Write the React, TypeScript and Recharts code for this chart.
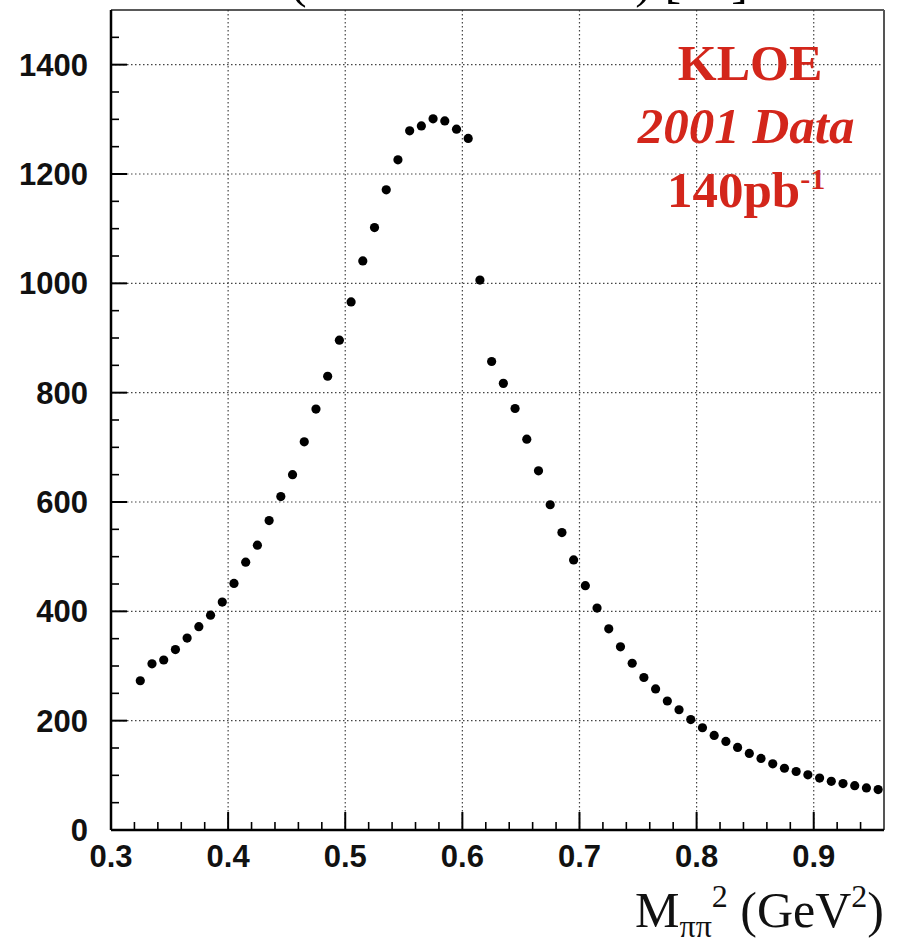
import React from "react";
import {
  ScatterChart,
  Scatter,
  XAxis,
  YAxis,
  CartesianGrid,
  ReferenceLine,
} from "recharts";

// M_pipi^2 bin centres (GeV^2)
const massSq = [
  0.325, 0.335, 0.345, 0.355, 0.365, 0.375, 0.385, 0.395, 0.405, 0.415,
  0.425, 0.435, 0.445, 0.455, 0.465, 0.475, 0.485, 0.495, 0.505, 0.515,
  0.525, 0.535, 0.545, 0.555, 0.565, 0.575, 0.585, 0.595, 0.605, 0.615,
  0.625, 0.635, 0.645, 0.655, 0.665, 0.675, 0.685, 0.695, 0.705, 0.715,
  0.725, 0.735, 0.745, 0.755, 0.765, 0.775, 0.785, 0.795, 0.805, 0.815,
  0.825, 0.835, 0.845, 0.855, 0.865, 0.875, 0.885, 0.895, 0.905, 0.915,
  0.925, 0.935, 0.945, 0.955,
];

// Spectrum values
const counts = [
  273, 304, 311, 330, 351, 372, 393, 417, 451, 490,
  521, 566, 610, 650, 710, 770, 830, 896, 966, 1041,
  1102, 1171, 1226, 1279, 1288, 1301, 1297, 1282, 1265, 1006,
  857, 817, 771, 715, 657, 595, 544, 494, 447, 406,
  368, 335, 305, 279, 258, 236, 220, 202, 187, 173,
  162, 151, 140, 131, 121, 113, 107, 101, 95, 89,
  85, 81, 77, 74,
];

// Axis ticks (major + minor)
const xTicks = [
  0.3, 0.32, 0.34, 0.36, 0.38, 0.4, 0.42, 0.44, 0.46, 0.48, 0.5, 0.52, 0.54,
  0.56, 0.58, 0.6, 0.62, 0.64, 0.66, 0.68, 0.7, 0.72, 0.74, 0.76, 0.78, 0.8,
  0.82, 0.84, 0.86, 0.88, 0.9, 0.92, 0.94,
];
const xMajor = [0.3, 0.4, 0.5, 0.6, 0.7, 0.8, 0.9];
const yTicks = [
  0, 50, 100, 150, 200, 250, 300, 350, 400, 450, 500, 550, 600, 650, 700, 750,
  800, 850, 900, 950, 1000, 1050, 1100, 1150, 1200, 1250, 1300, 1350, 1400, 1450,
];
const yMajor = [0, 200, 400, 600, 800, 1000, 1200, 1400];
const xGrid = [0.4, 0.5, 0.6, 0.7, 0.8, 0.9];
const yGrid = [200, 400, 600, 800, 1000, 1200, 1400];

const data = massSq.map((x, i) => ({ x, y: counts[i] }));

const TICK_FONT = "'Liberation Sans', Arial, sans-serif";
const SERIF = "'Liberation Serif', 'Times New Roman', serif";
const RED = "#d3261b";

const isXMajor = (v: number) => xMajor.some((m) => Math.abs(m - v) < 1e-6);

const XTick = (props: any) => {
  const { x, y, payload } = props;
  const v = payload.value as number;
  const major = isXMajor(v);
  return (
    <g>
      <line x1={x} x2={x} y1={y} y2={y - (major ? 18 : 8)} stroke="#000" strokeWidth={major ? 2 : 1.6} />
      {major && (
        <text
          x={x}
          y={y + 37}
          textAnchor="middle"
          fontFamily={TICK_FONT}
          fontWeight="bold"
          fontSize={31}
          fill="#111"
        >
          {v.toFixed(1)}
        </text>
      )}
    </g>
  );
};

const YTick = (props: any) => {
  const { x, y, payload } = props;
  const v = payload.value as number;
  const major = yMajor.includes(v);
  return (
    <g>
      <line x1={x} x2={x + (major ? 16 : 8)} y1={y} y2={y} stroke="#000" strokeWidth={major ? 2 : 1.6} />
      {major && (
        <text
          x={x - 23}
          y={y + 11}
          textAnchor="end"
          fontFamily={TICK_FONT}
          fontWeight="bold"
          fontSize={31}
          fill="#111"
        >
          {v}
        </text>
      )}
    </g>
  );
};

const Dot = (props: any) => {
  const { cx, cy } = props;
  if (cx == null || cy == null) return null;
  return <circle cx={cx} cy={cy} r={4.6} fill="#000" />;
};

export default function App() {
  return (
    <div style={{ position: "absolute", left: 0, top: 0, width: 909, height: 941, background: "#fff" }}>
      <ScatterChart
        width={909}
        height={941}
        margin={{ top: 10, right: 25, bottom: 0, left: 0 }}
      >
        <CartesianGrid
          horizontalValues={yGrid}
          verticalValues={xGrid}
          stroke="#444"
          strokeWidth={1.2}
          strokeDasharray="1.5 2.5"
        />
        <XAxis
          type="number"
          dataKey="x"
          domain={[0.3, 0.96]}
          ticks={xTicks}
          interval={0}
          allowDataOverflow
          height={111}
          tickSize={0}
          tickMargin={0}
          tickLine={false}
          tick={<XTick />}
          axisLine={{ stroke: "#000", strokeWidth: 2.5 }}
        />
        <YAxis
          type="number"
          dataKey="y"
          domain={[0, 1500]}
          ticks={yTicks}
          interval={0}
          allowDataOverflow
          width={111}
          tickSize={0}
          tickMargin={0}
          tickLine={false}
          tick={<YTick />}
          axisLine={{ stroke: "#000", strokeWidth: 2.5 }}
        />
        <ReferenceLine y={1500} stroke="#222" strokeWidth={1.6} />
        <ReferenceLine x={0.96} stroke="#555" strokeWidth={2} />
        <Scatter data={data} shape={<Dot />} isAnimationActive={false} />
      </ScatterChart>
      <svg
        width={909}
        height={941}
        style={{ position: "absolute", left: 0, top: 0, pointerEvents: "none" }}
      >
        {/* title, mostly cut off at the top edge as in the reference */}
        <text
          x={290}
          y={-3}
          fontFamily={SERIF}
          fontSize={50}
          fill="#000"
          textLength={458}
          lengthAdjust="spacing"
        >
          (e⁺e⁻ → π⁺π⁻ + X) [nb]
        </text>
        {/* KLOE annotation */}
        <text x={750} y={80} textAnchor="middle" fontFamily={SERIF} fontWeight="bold" fontSize={50} fill={RED}>
          KLOE
        </text>
        <text x={746} y={143} textAnchor="middle" fontFamily={SERIF} fontWeight="bold" fontStyle="italic" fontSize={51} fill={RED}>
          2001 Data
        </text>
        <text x={667} y={207} fontFamily={SERIF} fontWeight="bold" fontSize={51} fill={RED}>
          140pb
          <tspan dy={-18} fontSize={30}>-1</tspan>
        </text>
        {/* x-axis title */}
        <text x={884} y={927} textAnchor="end" fontFamily={SERIF} fontSize={50} fill="#111">
          M
          <tspan dy={10} fontSize={32}>ππ</tspan>
          <tspan dy={-30} fontSize={32}>2</tspan>
          <tspan dy={20}> (GeV</tspan>
          <tspan dy={-20} fontSize={32}>2</tspan>
          <tspan dy={20}>)</tspan>
        </text>
      </svg>
    </div>
  );
}
